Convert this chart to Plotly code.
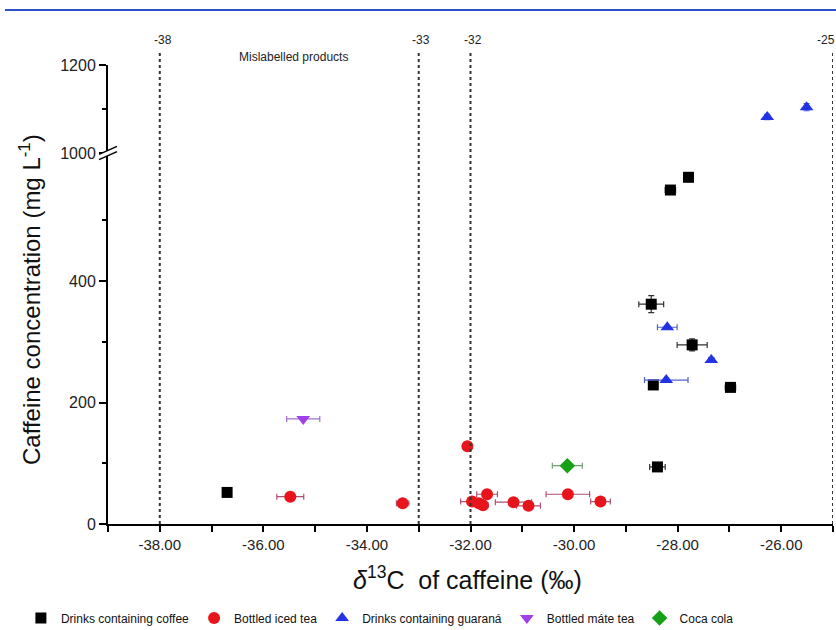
import plotly.graph_objects as go

# ---------------- data ----------------
coffee_x = [-36.70, -28.14, -27.79, -28.51, -27.72, -28.47, -26.98, -28.39]
coffee_y = [52, 550, 571, 362, 295, 229, 225, 94]
coffee_xerr = [0.0, 0.10, 0.0, 0.24, 0.29, 0.08, 0.10, 0.15]
coffee_yerr = [0, 5, 0, 14, 10, 4, 5, 4]

icedtea_x = [-35.48, -33.31, -32.06, -31.97, -31.84, -31.76, -31.68, -31.17, -30.88, -30.12, -29.49]
icedtea_y = [45, 34, 128, 37, 34, 31, 49, 36, 30, 49, 37]
icedtea_xerr = [0.26, 0.12, 0.05, 0.22, 0.10, 0.10, 0.20, 0.35, 0.23, 0.42, 0.19]

guarana_low_x = [-28.20, -27.35, -28.22]
guarana_low_y = [324, 270, 237]
guarana_low_xerr = [0.19, 0.05, 0.42]
guarana_high_x = [-26.27, -25.51]
guarana_high_y = [1082, 1104]
guarana_high_yerr = [6, 8]

mate_x = [-35.23]
mate_y = [173]
mate_xerr = [0.32]

coca_x = [-30.13]
coca_y = [96]
coca_xerr = [0.29]

ref_lines = [-38, -33, -32, -25]
x_ticks = [-38, -36, -34, -32, -30, -28, -26]
x_ticktext = ["%.2f" % v for v in x_ticks]
low_ticks = [0, 200, 400]
high_ticks = [1000, 1200]

# ---------------- geometry ----------------
W, H = 836, 630
ML, MR, MT, MB = 108, 3, 65, 106
PW, PH = W - ML - MR, H - MT - MB
split = (524 - 153) / PH  # junction of the broken axis (paper fraction)

def py(pix):  # pixel y -> paper y
    return (H - MB - pix) / PH

def px(pix):  # pixel x -> paper x
    return (pix - ML) / PW

FONT = "Arial, Liberation Sans, sans-serif"
RED, REDERR = "#e8141c", "#b05070"
BLUE, BLUEERR = "#2233e6", "#5060d0"
PURPLE, PURERR = "#a040e8", "#a070d0"
GREEN, GREENERR = "#15a015", "#70a070"

fig = go.Figure()

fig.add_trace(go.Scatter(
    x=coffee_x, y=coffee_y, mode="markers", name="Drinks containing coffee",
    marker=dict(symbol="square", size=11, color="black"),
    error_x=dict(type="data", array=coffee_xerr, color="#333", thickness=1.2, width=3),
    error_y=dict(type="data", array=coffee_yerr, color="#333", thickness=1.2, width=3),
    xaxis="x", yaxis="y"))

fig.add_trace(go.Scatter(
    x=icedtea_x, y=icedtea_y, mode="markers", name="Bottled iced tea",
    marker=dict(symbol="circle", size=12, color=RED),
    error_x=dict(type="data", array=icedtea_xerr, color=REDERR, thickness=1.2, width=3),
    xaxis="x", yaxis="y"))

fig.add_trace(go.Scatter(
    x=guarana_low_x, y=guarana_low_y, mode="markers", name="Drinks containing guaraná",
    legendgroup="g", marker=dict(symbol="triangle-up", size=12, color=BLUE),
    error_x=dict(type="data", array=guarana_low_xerr, color=BLUEERR, thickness=1.2, width=3),
    xaxis="x", yaxis="y"))
fig.add_trace(go.Scatter(
    x=guarana_high_x, y=guarana_high_y, mode="markers", name="Drinks containing guaraná",
    legendgroup="g", showlegend=False,
    marker=dict(symbol="triangle-up", size=12, color=BLUE),
    error_y=dict(type="data", array=guarana_high_yerr, color=BLUEERR, thickness=1.2, width=3),
    xaxis="x", yaxis="y2"))

fig.add_trace(go.Scatter(
    x=mate_x, y=mate_y, mode="markers", name="Bottled máte tea",
    marker=dict(symbol="triangle-down", size=12, color=PURPLE),
    error_x=dict(type="data", array=mate_xerr, color=PURERR, thickness=1.2, width=3),
    xaxis="x", yaxis="y"))

fig.add_trace(go.Scatter(
    x=coca_x, y=coca_y, mode="markers", name="Coca cola",
    marker=dict(symbol="diamond", size=12, color=GREEN),
    error_x=dict(type="data", array=coca_xerr, color=GREENERR, thickness=1.2, width=3),
    xaxis="x", yaxis="y"))

shapes = []
# reference dashed lines
for v in ref_lines:
    shapes.append(dict(type="line", xref="x", yref="paper", x0=v, x1=v,
                       y0=0, y1=py(50), line=dict(color="#333", width=2, dash="3px,3px")))
# top blue rule
shapes.append(dict(type="line", xref="paper", yref="paper", x0=px(5), x1=px(836),
                   y0=py(10), y1=py(10), line=dict(color="#2b4fc4", width=2)))
# axis break marks
dx, dy, off = 9 / PW, 4 / PH, 2.6 / PH
shapes.append(dict(type="path", xref="paper", yref="paper",
                   path=f"M {-dx},{split - dy + off} L {dx},{split + dy + off} L {dx},{split + dy - off} L {-dx},{split - dy - off} Z",
                   fillcolor="white", line=dict(width=0)))
for s in (+off, -off):
    shapes.append(dict(type="line", xref="paper", yref="paper",
                       x0=-dx, x1=dx, y0=split - dy + s, y1=split + dy + s,
                       line=dict(color="black", width=1.5)))

annotations = []
for v in ref_lines:
    annotations.append(dict(x=px(163 + (v + 38) * 51.6) if v != -25 else px(826),
                            y=py(40), xref="paper", yref="paper", text=str(v),
                            showarrow=False, font=dict(family=FONT, size=12, color="#222"),
                            xanchor="center", yanchor="middle"))
annotations.append(dict(x=px(293), y=py(57), xref="paper", yref="paper",
                        text="Mislabelled products", showarrow=False,
                        font=dict(family=FONT, size=12, color="#222"),
                        xanchor="center", yanchor="middle"))
annotations.append(dict(x=px(30), y=py(300), xref="paper", yref="paper",
                        text="Caffeine concentration (mg L<sup>-1</sup>)", textangle=-90,
                        showarrow=False, font=dict(family=FONT, size=24, color="#111"),
                        xanchor="center", yanchor="middle"))
annotations.append(dict(x=px(467), y=py(578), xref="paper", yref="paper",
                        text="<i>δ</i><sup>13</sup>C  of caffeine (‰)",
                        showarrow=False, font=dict(family=FONT, size=25, color="#111"),
                        xanchor="center", yanchor="middle"))

fig.update_layout(
    width=W, height=H, autosize=False,
    margin=dict(l=ML, r=MR, t=MT, b=MB),
    paper_bgcolor="white", plot_bgcolor="white",
    font=dict(family=FONT, color="#222"),
    showlegend=True,
    legend=dict(orientation="h", xref="container", yref="container",
                x=0.025, y=(H - 618) / H, xanchor="left", yanchor="middle",
                font=dict(family=FONT, size=12, color="#111"),
                itemwidth=30, tracegroupgap=0),
    xaxis=dict(range=[-39, -25], anchor="y", showline=True, linecolor="black", linewidth=2,
               showgrid=False, zeroline=False, tickvals=x_ticks, ticktext=x_ticktext,
               ticks="outside", ticklen=6, tickwidth=1.5, tickcolor="black",
               tickfont=dict(family=FONT, size=15, color="#222"),
               minor=dict(dtick=1, ticks="outside", ticklen=6, tickwidth=1.5, tickcolor="black")),
    yaxis=dict(domain=[0, split], range=[0, 611], anchor="x", showline=True, linecolor="black",
               linewidth=2, showgrid=False, zeroline=False, tickvals=low_ticks,
               ticks="outside", ticklen=7, tickwidth=1.5, tickcolor="black",
               tickfont=dict(family=FONT, size=16, color="#222"),
               minor=dict(tickvals=[100, 300, 500], ticks="outside", ticklen=4,
                          tickwidth=1.5, tickcolor="black")),
    yaxis2=dict(domain=[split, 1], range=[1000, 1200], anchor="x", showline=True,
                linecolor="black", linewidth=2, showgrid=False, zeroline=False,
                tickvals=high_ticks, ticks="outside", ticklen=7, tickwidth=1.5,
                tickcolor="black", tickfont=dict(family=FONT, size=16, color="#222"),
                minor=dict(tickvals=[1100], ticks="outside", ticklen=4,
                           tickwidth=1.5, tickcolor="black")),
    shapes=shapes, annotations=annotations,
)

fig.write_html("out.html", config={"displayModeBar": False},
               post_script="document.body.style.margin='0px';document.body.style.padding='0px';")
